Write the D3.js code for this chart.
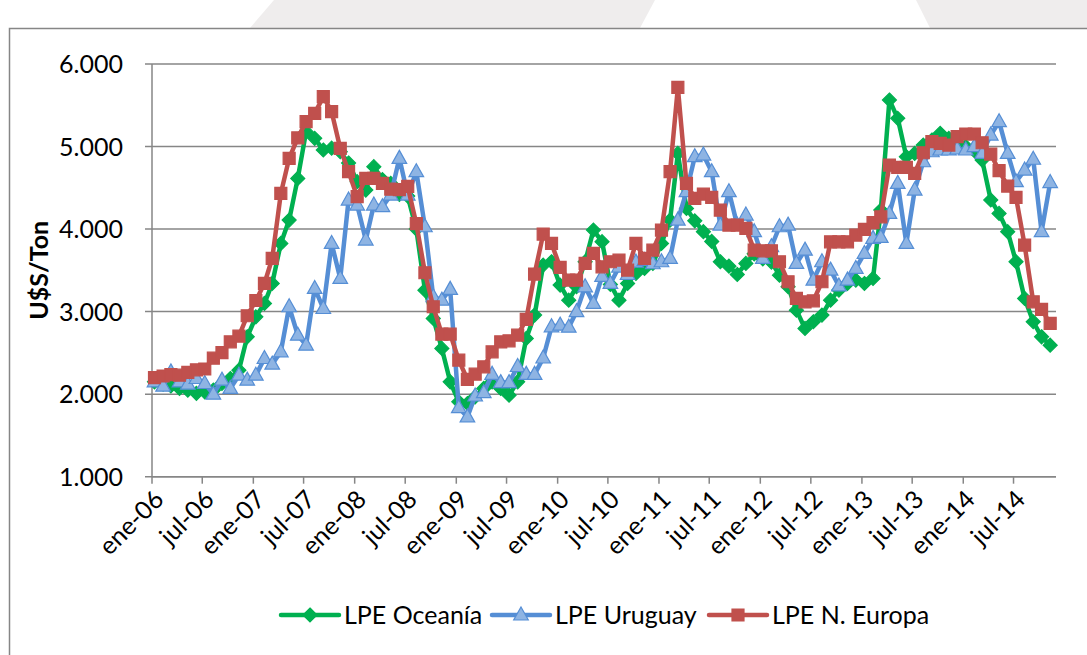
<!DOCTYPE html>
<html><head><meta charset="utf-8">
<script src="https://cdn.jsdelivr.net/npm/d3@7"></script>
<style>
body{margin:0;background:#fff}
svg{display:block}
text{font-family:Lato,"Open Sans",sans-serif;fill:#000}
</style>
</head><body>
<svg id="chart" width="1087" height="655"></svg>
<script>
// ---- data (monthly, ene-06 .. nov-14) ----
const startYear = 2006;
const oceania = [2150,2120,2100,2069,2048,2010,2028,2048,2130,2190,2291,2695,
  2937,3099,3341,3826,4109,4614,5180,5099,4958,4980,4937,4800,
  4574,4473,4756,4600,4554,4420,4400,4000,3260,2917,2554,2150,
  1907,1887,1968,2069,2150,2069,1988,2150,2675,2958,3564,3604,
  3321,3139,3301,3604,3988,3847,3330,3139,3341,3463,3523,3584,
  3826,4109,4917,4250,4100,3968,3850,3604,3550,3450,3584,3700,
  3640,3600,3442,3301,3018,2796,2877,2958,3139,3261,3341,3382,
  3341,3402,4230,5564,5342,4877,4917,5018,5079,5160,5099,5050,
  5000,4950,4836,4352,4190,3968,3604,3160,2877,2695,2594];
const uruguay = [2150,2097,2270,2150,2121,2190,2129,2000,2170,2069,2230,2170,
  2230,2432,2364,2513,3059,2715,2594,3281,3038,3826,3402,4352,
  4291,3867,4291,4271,4412,4857,4412,4695,4028,3180,3139,3270,
  1836,1725,1978,2018,2240,2140,2140,2335,2240,2240,2438,2816,
  2836,2812,3000,3301,3100,3426,3341,3540,3450,3600,3620,3580,
  3604,3645,4109,4453,4877,4897,4695,4048,4453,4048,4170,3968,
  3645,3786,4028,4048,3584,3745,3382,3604,3503,3311,3382,3523,
  3705,3887,3900,4190,4554,3826,4473,4816,4937,4958,4958,4970,
  4958,5000,4917,5139,5301,4917,4574,4715,4846,3968,4564];
const europa = [2200,2220,2236,2230,2265,2295,2305,2436,2503,2634,2703,2950,
  3135,3341,3644,4432,4857,5105,5301,5402,5604,5422,4978,4695,
  4392,4614,4614,4554,4483,4477,4517,4065,3471,3059,2727,2727,
  2412,2178,2242,2331,2513,2634,2646,2715,2905,3455,3939,3826,
  3535,3382,3382,3584,3705,3543,3604,3624,3503,3826,3644,3745,
  3988,4695,5717,4554,4372,4424,4384,4230,4048,4048,4008,3745,
  3737,3737,3604,3362,3160,3119,3131,3362,3846,3846,3846,3927,
  3996,4077,4149,4776,4747,4747,4675,4925,5059,5038,5018,5119,
  5152,5152,5046,4909,4707,4521,4384,3806,3119,3026,2857];
const seriesNames = ["LPE Oceanía","LPE Uruguay","LPE N. Europa"];
const yTicks = [1000,2000,3000,4000,5000,6000];
const xTickLabels = ["ene-06","jul-06","ene-07","jul-07","ene-08","jul-08","ene-09","jul-09",
  "ene-10","jul-10","ene-11","jul-11","ene-12","jul-12","ene-13","jul-13","ene-14","jul-14"];
const yTitle = "U$S/Ton";

// ---- styles ----
const styles = [
  {line:"#00B050", fill:"#00B050", stroke:"#00B050", marker:"diamond"},
  {line:"#558ED5", fill:"#8EB4E3", stroke:"#558ED5", marker:"triangle"},
  {line:"#C0504D", fill:"#C0504D", stroke:"#C0504D", marker:"square"}
];

const svg = d3.select("#chart");
const M = {left:152, right:1056, top:64, bottom:476.7};

// background decoration + frame
svg.append("polygon").attr("points","274,0 655,0 640,28 250,28").attr("fill","#efeded");
svg.append("polygon").attr("points","916,0 1087,0 1087,28 930,28").attr("fill","#efeded");
svg.append("rect").attr("x",9.5).attr("y",28.5).attr("width",1100).attr("height",700)
  .attr("fill","#fff").attr("stroke","#868686").attr("stroke-width",1.5);

const monthNames = ["ene","feb","mar","abr","may","jun","jul","ago","sep","oct","nov","dic"];
const parseLabel = s => {
  const [m,y] = s.split("-");
  return new Date(2000+ +y, monthNames.indexOf(m), 1);
};
const x = d3.scaleTime()
  .domain([new Date(startYear,0,1), new Date(2014,11,1)])
  .range([M.left, M.right]);
const y = d3.scaleLinear().domain([1000,6000]).range([M.bottom, M.top]);
const pointDate = i => new Date(startYear, i, 10);

const loc = d3.formatLocale({decimal:",", thousands:".", grouping:[3], currency:["$",""]});
const fmt = loc.format(",");

// gridlines
svg.append("g").selectAll("line").data(yTicks).join("line")
  .attr("x1",M.left-7).attr("x2",M.right)
  .attr("y1",d=>y(d)).attr("y2",d=>y(d))
  .attr("stroke","#868686").attr("stroke-width",1.5);

// y axis line
svg.append("line").attr("x1",M.left).attr("x2",M.left).attr("y1",M.top).attr("y2",M.bottom)
  .attr("stroke","#868686").attr("stroke-width",1.5);

// y labels
svg.append("g").selectAll("text").data(yTicks).join("text")
  .attr("x",M.left-29).attr("y",d=>y(d)).attr("dy","0.36em")
  .attr("text-anchor","end").attr("font-size",25).text(d=>fmt(d));

// y title
svg.append("text").attr("transform",`translate(48,${(M.top+M.bottom)/2}) rotate(-90)`)
  .attr("text-anchor","middle").attr("font-size",25).attr("font-weight","bold").text(yTitle);

// x ticks and labels
const xt = xTickLabels.map(parseLabel);
svg.append("g").selectAll("line").data(xt).join("line")
  .attr("x1",d=>x(d)).attr("x2",d=>x(d)).attr("y1",M.bottom).attr("y2",M.bottom+7)
  .attr("stroke","#868686").attr("stroke-width",1.5);
svg.append("g").selectAll("text").data(xTickLabels).join("text")
  .attr("transform",(d,i)=>`translate(${x(xt[i])+7},${M.bottom+18}) rotate(-45)`)
  .attr("text-anchor","end").attr("dy","0.35em").attr("font-size",25).text(d=>d);

// markers
const markerPath = {
  diamond: "M0,-7L7,0L0,7L-7,0Z",
  triangle: "M0,-8L7.3,5L-7.3,5Z",
  square: "M-6,-6H6V6H-6Z"
};

const data = [oceania, uruguay, europa];
const line = d3.line().x((d,i)=>x(pointDate(i))).y(d=>y(d));
data.forEach((vals,k)=>{
  const st = styles[k];
  const g = svg.append("g");
  g.append("path").datum(vals).attr("d",line).attr("fill","none")
    .attr("stroke",st.line).attr("stroke-width",4.5).attr("stroke-linejoin","round").attr("stroke-linecap","round");
  g.selectAll("path.m").data(vals).join("path").attr("class","m")
    .attr("transform",(d,i)=>`translate(${x(pointDate(i))},${y(d)})`)
    .attr("d",markerPath[st.marker]).attr("fill",st.fill)
    .attr("stroke",st.stroke).attr("stroke-width",1.2);
});

// x axis line on top of everything
svg.append("line").attr("x1",M.left).attr("x2",M.right).attr("y1",M.bottom).attr("y2",M.bottom)
  .attr("stroke","#868686").attr("stroke-width",1.5);

// legend
const legendX = [281, 492, 709];
const legendY = 615;
const lg = svg.append("g");
seriesNames.forEach((name,k)=>{
  const st = styles[k];
  const x0 = legendX[k];
  lg.append("line").attr("x1",x0).attr("x2",x0+58).attr("y1",legendY).attr("y2",legendY)
    .attr("stroke",st.line).attr("stroke-width",4.5).attr("stroke-linecap","round");
  lg.append("path").attr("transform",`translate(${x0+29},${legendY})`)
    .attr("d",markerPath[st.marker]).attr("fill",st.fill).attr("stroke",st.stroke).attr("stroke-width",1.2);
  lg.append("text").attr("x",x0+63).attr("y",legendY).attr("dy","0.36em")
    .attr("font-size",25).text(name);
});
</script>
</body></html>
